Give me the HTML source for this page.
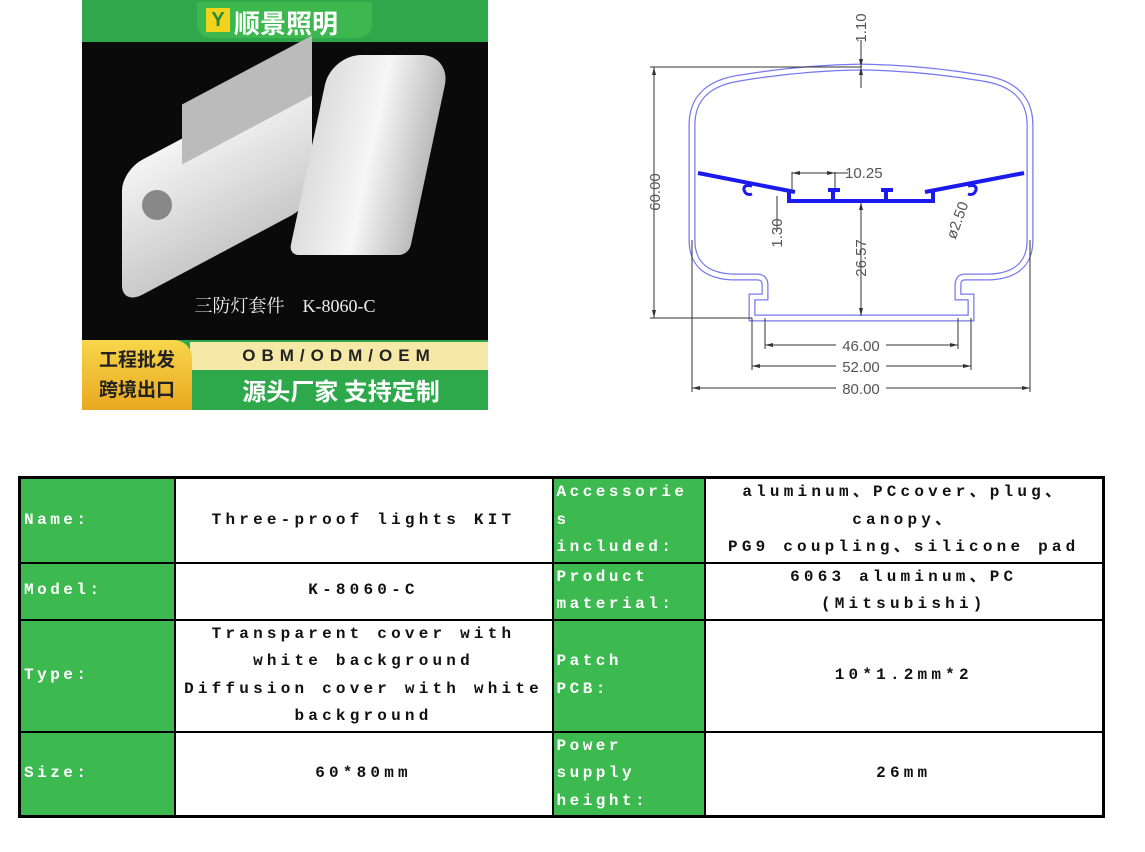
<!DOCTYPE html>
<html><head><meta charset="utf-8"><style>
body{margin:0;width:1145px;height:852px;background:#fff;position:relative;overflow:hidden;font-family:"Liberation Mono","Noto Sans CJK SC",monospace}
.ph{position:absolute;left:82px;top:0;width:406px;height:410px;background:#0a0a0a;overflow:hidden}
table{position:absolute;left:18px;top:476px;width:1084px;table-layout:fixed;border-collapse:collapse;border:3px solid #000}
td{border:2px solid #000;padding:0 3px;font-size:16px;font-weight:bold;letter-spacing:4.2px;line-height:27.5px;text-align:center;color:#111;overflow:hidden;white-space:nowrap}
td.g{background:#3cba50;color:#fff;text-align:left;letter-spacing:3.5px}
</style></head><body>
<div class="ph">
  <div style="position:absolute;left:0;top:0;width:406px;height:42px;background:#2ea84a"></div>
  <div style="position:absolute;left:115px;top:2px;width:175px;height:36px;background:#3cb84e;border-radius:0 0 14px 14px"></div>
  <div style="position:absolute;left:124px;top:8px;width:24px;height:24px;background:#f1d21c;color:#2a8a3c;font:bold 20px 'Liberation Sans';text-align:center;line-height:24px">Y</div>
  <div style="position:absolute;left:152px;top:4px;color:#fff;font:bold 26px 'Noto Sans CJK SC',sans-serif">顺景照明</div>
  <div style="position:absolute;left:40px;top:120px;width:190px;height:135px;background:linear-gradient(#f4f4f4,#c9c9c9);border-radius:20px;transform:skewY(-28deg)"></div>
  <div style="position:absolute;left:100px;top:70px;width:130px;height:60px;background:#bbb;transform:skewY(-28deg)"></div>
  <div style="position:absolute;left:228px;top:55px;width:120px;height:200px;background:linear-gradient(90deg,#ddd,#f6f6f6,#bbb);border-radius:30px 30px 10px 10px;transform:skewX(-12deg)"></div>
  <div style="position:absolute;left:60px;top:190px;width:30px;height:30px;background:#888;border-radius:50%"></div>
  <div style="position:absolute;left:0;top:292px;width:406px;text-align:center;color:#eee;font:18px 'Liberation Serif','Noto Serif CJK SC',serif">三防灯套件　K-8060-C</div>
  <div style="position:absolute;left:0;top:340px;width:406px;height:70px;background:#2da84a"></div>
  <div style="position:absolute;left:108px;top:342px;width:298px;height:28px;background:#f6e9a8;color:#222;font:bold 17px 'Liberation Sans';letter-spacing:6px;text-align:center;line-height:28px">OBM/ODM/OEM</div>
  <div style="position:absolute;left:112px;top:372px;width:294px;color:#fff;font:bold 24px 'Noto Sans CJK SC',sans-serif;text-align:center">源头厂家 支持定制</div>
  <div style="position:absolute;left:0;top:340px;width:110px;height:70px;background:linear-gradient(#f8d64a,#e8a820);border-radius:0 18px 0 0;color:#222;font:bold 19px 'Noto Sans CJK SC',sans-serif;line-height:30px;text-align:center;padding-top:4px;box-sizing:border-box">工程批发<br>跨境出口</div>
</div>
<svg style="position:absolute;left:0;top:0" width="1145" height="470">
<g fill="none">
<path d="M692,240 L692,125 Q692,85 740,78 Q800,68 861,67 Q922,68 982,78 Q1030,85 1030,125 L1030,240 Q1030,275 990,277 L965,277 Q958,277 958,285 L958,297 L971,297 L971,318 L752,318 L752,297 L765,297 L765,285 Q765,277 757,277 L732,277 Q692,275 692,240 Z" stroke="#7777ee" stroke-width="7"/>
<path d="M692,240 L692,125 Q692,85 740,78 Q800,68 861,67 Q922,68 982,78 Q1030,85 1030,125 L1030,240 Q1030,275 990,277 L965,277 Q958,277 958,285 L958,297 L971,297 L971,318 L752,318 L752,297 L765,297 L765,285 Q765,277 757,277 L732,277 Q692,275 692,240 Z" stroke="#fff" stroke-width="4.5"/>
<g stroke="#1a1aee" stroke-width="4">
<path d="M698,173 L795,192 M1024,173 L925,192 M789,191 L789,201 L933,201 L933,191 M833,192 L833,201 M886,192 L886,201"/>
<path d="M828,190 L840,190 M881,190 L893,190" />
<path d="M752,186 Q743,184 744,190 Q746,196 752,194 M968,186 Q977,184 976,190 Q974,196 968,194" stroke-width="3"/>
</g>
<g stroke="#333" stroke-width="1">
<path d="M654,67 L654,318 M650,67 L862,67 M650,318 L752,318 M692,240 L692,392 M1030,240 L1030,392 M692,388 L1030,388 M752,318 L752,370 M971,318 L971,370 M752,366 L971,366 M765,318 L765,349 M958,318 L958,349 M765,345 L958,345 M861,202 L861,316 M861,40 L861,88 M792,172 L792,192 M835,172 L835,188 M792,173 L848,173 M777,196 L777,230"/>
</g>
<g fill="#333">
<path d="M654,67 l-2,8 h4z M654,318 l-2,-8 h4z M692,388 l8,-2 v4z M1030,388 l-8,-2 v4z M752,366 l8,-2 v4z M971,366 l-8,-2 v4z M765,345 l8,-2 v4z M958,345 l-8,-2 v4z M861,202 l-2,8 h4z M861,316 l-2,-8 h4z M792,173 l8,-2 v4z M835,173 l-8,-2 v4z M861,67 l-2,-8 h4z M861,67 l-2,8 h4z"/>
</g>
</g>
<g font-family="Liberation Sans" font-size="15" fill="#555">
<rect x="836" y="380" width="50" height="14" fill="#fff"/><text x="861" y="394" text-anchor="middle">80.00</text>
<rect x="836" y="358" width="50" height="14" fill="#fff"/><text x="861" y="372" text-anchor="middle">52.00</text>
<rect x="836" y="337" width="50" height="14" fill="#fff"/><text x="861" y="351" text-anchor="middle">46.00</text>
<text x="845" y="178">10.25</text>
<text transform="translate(660,192) rotate(-90)" text-anchor="middle">60.00</text>
<text transform="translate(866,28) rotate(-90)" text-anchor="middle">1.10</text>
<text transform="translate(866,258) rotate(-90)" text-anchor="middle">26.57</text>
<text transform="translate(782,233) rotate(-90)" text-anchor="middle">1.30</text>
<text transform="translate(962,222) rotate(-70)" text-anchor="middle">ø2.50</text>
</g>
</svg>
<table>
<colgroup><col style="width:155px"><col style="width:378px"><col style="width:152px"><col style="width:399px"></colgroup>
<tr style="height:85px"><td class="g">Name:</td><td>Three-proof lights KIT</td><td class="g">Accessorie<br>s<br>included:</td><td>aluminum、PCcover、plug、<br>canopy、<br>PG9 coupling、silicone pad</td></tr>
<tr style="height:56px"><td class="g">Model:</td><td>K-8060-C</td><td class="g">Product<br>material:</td><td>6063 aluminum、PC<br>(Mitsubishi)</td></tr>
<tr style="height:112px"><td class="g">Type:</td><td>Transparent cover with<br>white background<br>Diffusion cover with white<br>background</td><td class="g">Patch<br>PCB:</td><td>10*1.2mm*2</td></tr>
<tr style="height:84px"><td class="g">Size:</td><td>60*80mm</td><td class="g">Power<br>supply<br>height:</td><td>26mm</td></tr>
</table>
</body></html>
